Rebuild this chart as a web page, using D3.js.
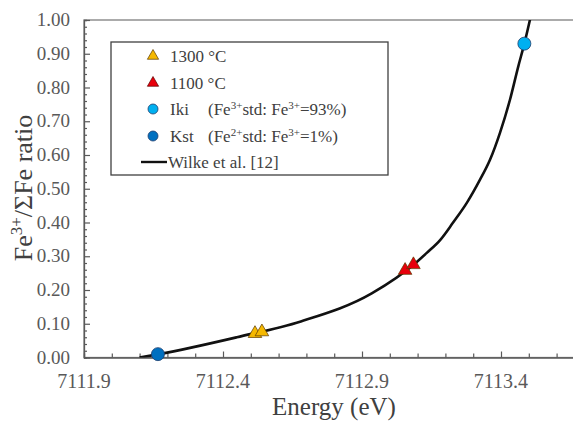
<!DOCTYPE html>
<html>
<head>
<meta charset="utf-8">
<script src="https://cdn.jsdelivr.net/npm/d3@7"></script>
<style>
  body { margin: 0; background: #fff; }
</style>
</head>
<body>
<svg width="573" height="423"></svg>
<script>
// data
const wilkeEnergy = [7112.10, 7112.17, 7112.45, 7112.68, 7112.935, 7113.097, 7113.133, 7113.181, 7113.227, 7113.277, 7113.324, 7113.360, 7113.396, 7113.432, 7113.462, 7113.484, 7113.504, 7113.52]
const wilkeRatio  = [0.000, 0.010, 0.060, 0.107, 0.190, 0.283, 0.310, 0.348, 0.399, 0.458, 0.526, 0.585, 0.665, 0.763, 0.862, 0.930, 1.000, 1.060]

const t1300Energy = [7112.515, 7112.54]
const t1300Ratio  = [0.068, 0.073]
const t1100Energy = [7113.055, 7113.085]
const t1100Ratio  = [0.255, 0.272]
const ikiEnergy = [7113.484]
const ikiRatio  = [0.93]
const kstEnergy = [7112.166]
const kstRatio  = [0.01]

const xTickLabels = [7111.9, 7112.4, 7112.9, 7113.4]
const yTickLabels = [0, 0.1, 0.2, 0.3, 0.4, 0.5, 0.6, 0.7, 0.8, 0.9, 1.0]

const serif = '"Liberation Serif", "Times New Roman", "DejaVu Serif", serif'
const svg = d3.select('svg').attr('font-family', serif)
const axisColor = '#595959'

// plot box runs off the right edge of the window
const x = d3.scaleLinear().domain([7111.9, 7113.9]).range([84, 640])
const y = d3.scaleLinear().domain([0, 1]).range([357.5, 20])

svg.append('clipPath').attr('id', 'plotclip')
  .append('rect').attr('x', 84).attr('y', 20).attr('width', 556).attr('height', 337.5)

// frame
svg.append('rect')
    .attr('x', 84).attr('y', 20)
    .attr('width', 556).attr('height', 337.5)
    .attr('fill', 'none')
    .attr('stroke', '#7f7f7f')
    .attr('stroke-width', 1.3)

// x axis: minor ticks every 0.1, labels every 0.5
const xMinor = d3.range(0, 20).map(i => 7111.9 + i * 0.1)
const xAxis = svg.append('g')
    .attr('transform', `translate(0, ${y(0)})`)
    .call(d3.axisBottom(x).tickValues(xMinor).tickSize(-4).tickFormat(''))
xAxis.select('.domain').attr('stroke', axisColor).attr('stroke-width', 1.3)
xAxis.selectAll('.tick line').attr('stroke', axisColor).attr('stroke-width', 1.2)
  .filter(d => xTickLabels.some(v => Math.abs(v - d) < 1e-6)).attr('y2', -6)

svg.append('g').selectAll('text')
  .data(xTickLabels)
  .join('text')
    .attr('x', d => x(d))
    .attr('y', 388)
    .attr('text-anchor', 'middle')
    .attr('font-family', serif)
    .attr('font-size', 20)
    .attr('fill', axisColor)
    .text(d => d.toFixed(1))

// y axis: minor ticks every 0.02, labels every 0.1
const yMinor = d3.range(0, 51).map(i => i * 0.02)
const yAxis = svg.append('g')
    .attr('transform', `translate(${x(7111.9)}, 0)`)
    .call(d3.axisLeft(y).tickValues(yMinor).tickSize(-3).tickFormat(''))
yAxis.select('.domain').attr('stroke', axisColor).attr('stroke-width', 1.3)
yAxis.selectAll('.tick line').attr('stroke', axisColor).attr('stroke-width', 1.2)
  .filter((d, i) => i % 5 === 0).attr('x2', 6)

svg.append('g').selectAll('text')
  .data(yTickLabels)
  .join('text')
    .attr('x', 70)
    .attr('y', d => y(d) + 6)
    .attr('text-anchor', 'end')
    .attr('font-family', serif)
    .attr('font-size', 19)
    .attr('fill', axisColor)
    .text(d => d.toFixed(2))

// axis titles
svg.append('text')
    .attr('x', 334).attr('y', 415)
    .attr('text-anchor', 'middle')
    .attr('font-family', serif)
    .attr('font-size', 25)
    .attr('fill', '#404040')
    .text('Energy (eV)')

const yTitle = svg.append('text')
    .attr('transform', 'translate(32, 188) rotate(-90)')
    .attr('text-anchor', 'middle')
    .attr('font-family', serif)
    .attr('font-size', 26)
    .attr('fill', '#404040')
yTitle.append('tspan').text('Fe')
yTitle.append('tspan').attr('font-size', 17).attr('dy', -10).text('3+')
yTitle.append('tspan').attr('dy', 10).text('/ΣFe ratio')

// Wilke et al. curve
const plotG = svg.append('g').attr('clip-path', 'url(#plotclip)')
const wilke = wilkeEnergy.map((e, i) => [e, wilkeRatio[i]])
plotG.append('path')
    .datum(wilke)
    .attr('fill', 'none')
    .attr('stroke', '#111')
    .attr('stroke-width', 2.6)
    .attr('d', d3.line().x(d => x(d[0])).y(d => y(d[1])).curve(d3.curveMonotoneX))

const tri = d3.symbol().type(d3.symbolTriangle)

function drawTriangles(es, rs, fill, size) {
  svg.append('g').selectAll('path')
    .data(es.map((e, i) => [e, rs[i]]))
    .join('path')
      .attr('transform', d => `translate(${x(d[0])}, ${y(d[1]) - 1})`)
      .attr('d', tri.size(size))
      .attr('fill', fill)
      .attr('stroke', '#5a3a00')
      .attr('stroke-width', 0.7)
}

function drawCircles(es, rs, fill, r) {
  svg.append('g').selectAll('circle')
    .data(es.map((e, i) => [e, rs[i]]))
    .join('circle')
      .attr('cx', d => x(d[0]))
      .attr('cy', d => y(d[1]))
      .attr('r', r)
      .attr('fill', fill)
      .attr('stroke', '#1f3f6f')
      .attr('stroke-width', 0.8)
}

drawTriangles(t1300Energy, t1300Ratio, '#f5b800', 80)
drawTriangles(t1100Energy, t1100Ratio, '#e8000b', 80)
drawCircles(ikiEnergy, ikiRatio, '#00b0f0', 6.5)
drawCircles(kstEnergy, kstRatio, '#0070c0', 6.5)

// legend
const legend = svg.append('g')
legend.append('rect')
    .attr('x', 111).attr('y', 42)
    .attr('width', 277).attr('height', 133)
    .attr('fill', '#fff')
    .attr('stroke', '#404040')
    .attr('stroke-width', 1.3)

const rowY = [56, 83, 109, 136, 162]
const legendText = (yy, x0) => legend.append('text')
    .attr('x', x0).attr('y', yy + 6)
    .attr('font-family', serif)
    .attr('font-size', 17)
    .attr('fill', '#404040')

legend.append('path').attr('transform', `translate(153, ${rowY[0]})`)
    .attr('d', tri.size(55)).attr('fill', '#f5b800').attr('stroke', '#5a3a00').attr('stroke-width', 0.7)
legendText(rowY[0], 170).text('1300 °C')

legend.append('path').attr('transform', `translate(153, ${rowY[1]})`)
    .attr('d', tri.size(55)).attr('fill', '#e8000b').attr('stroke', '#5a0000').attr('stroke-width', 0.7)
legendText(rowY[1], 170).text('1100 °C')

legend.append('circle').attr('cx', 153).attr('cy', rowY[2]).attr('r', 5)
    .attr('fill', '#00b0f0').attr('stroke', '#1f3f6f').attr('stroke-width', 0.8)
legendText(rowY[2], 170).text('Iki')
const ikiNote = legendText(rowY[2], 208)
ikiNote.append('tspan').text('(Fe')
ikiNote.append('tspan').attr('font-size', 11).attr('dy', -6).text('3+')
ikiNote.append('tspan').attr('dy', 6).text('std: Fe')
ikiNote.append('tspan').attr('font-size', 11).attr('dy', -6).text('3+')
ikiNote.append('tspan').attr('dy', 6).text('=93%)')

legend.append('circle').attr('cx', 153).attr('cy', rowY[3]).attr('r', 5)
    .attr('fill', '#0070c0').attr('stroke', '#1f3f6f').attr('stroke-width', 0.8)
legendText(rowY[3], 170).text('Kst')
const kstNote = legendText(rowY[3], 208)
kstNote.append('tspan').text('(Fe')
kstNote.append('tspan').attr('font-size', 11).attr('dy', -6).text('2+')
kstNote.append('tspan').attr('dy', 6).text('std: Fe')
kstNote.append('tspan').attr('font-size', 11).attr('dy', -6).text('3+')
kstNote.append('tspan').attr('dy', 6).text('=1%)')

legend.append('line')
    .attr('x1', 141).attr('x2', 167)
    .attr('y1', rowY[4]).attr('y2', rowY[4])
    .attr('stroke', '#111').attr('stroke-width', 2.4)
legendText(rowY[4], 168).text('Wilke et al. [12]')
</script>
</body>
</html>
